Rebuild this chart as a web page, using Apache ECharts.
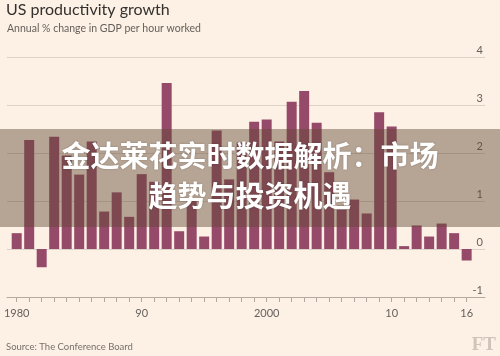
<!DOCTYPE html>
<html>
<head>
<meta charset="utf-8">
<script src="https://cdn.jsdelivr.net/npm/echarts@6/dist/echarts.min.js"></script>
<style>
html,body{margin:0;padding:0;background:#fdf1e5;}
#c{width:500px;height:356px;}
</style>
</head>
<body>
<div id="c"></div>
<script>
const years = ['1980','1981','1982','1983','1984','1985','1986','1987','1988','1989',
  '1990','1991','1992','1993','1994','1995','1996','1997','1998','1999',
  '2000','2001','2002','2003','2004','2005','2006','2007','2008','2009',
  '2010','2011','2012','2013','2014','2015','2016'];
const growth = [0.33, 2.27, -0.38, 2.34, 1.95, 1.55, 2.24, 0.78, 1.18, 0.67,
  1.56, 1.4, 3.46, 0.37, 1.0, 0.26, 2.47, 1.45, 2.22, 2.65,
  2.70, 2.24, 3.07, 3.29, 2.63, 1.6, 0.9, 1.03, 0.74, 2.85,
  2.55, 0.06, 0.49, 0.26, 0.53, 0.33, -0.24];
const labelYears = ['1980','1990','2000','2010','2016'];
const labelTexts = ['1980','90','2000','10','16'];
const titleText = 'US productivity growth';
const subtitleText = 'Annual % change in GDP per hour worked';
const sourceText = 'Source: The Conference Board';
const bannerLines = ['金达莱花实时数据解析：市场', '趋势与投资机遇'];

const chart = echarts.init(document.getElementById('c'), null, {renderer: 'canvas'});
const bg = '#fdf1e5';
chart.setOption({
  backgroundColor: bg,
  animation: false,
  grid: [
    {left: 7, right: 15, top: 57, bottom: 59},
    {left: 10.45, right: 27.1, top: 57, bottom: 59}
  ],
  xAxis: [
    {type: 'value', gridIndex: 0, min: 0, max: 1,
      axisLine: {show: true, onZero: false, lineStyle: {color: '#b3a99f', width: 1}},
      axisTick: {show: false}, axisLabel: {show: false}, splitLine: {show: false}},
    {type: 'category', gridIndex: 1, data: years, boundaryGap: true,
      axisLine: {show: false, onZero: false},
      axisTick: {show: true, alignWithLabel: true, interval: 0, length: 5,
        lineStyle: {color: '#b3a99f'}},
      axisLabel: {interval: 0, margin: 11, color: '#66605c', fontSize: 11,
        fontFamily: 'Lato',
        formatter: function (v) {
          const i = labelYears.indexOf(v);
          return i >= 0 ? labelTexts[i] : '';
        }},
      splitLine: {show: false}}
  ],
  yAxis: [
    {type: 'value', gridIndex: 0, position: 'right', min: -1, max: 4, interval: 1,
      axisLine: {show: false}, axisTick: {show: false},
      axisLabel: {inside: true, margin: 2, verticalAlign: 'bottom', color: '#66605c',
        fontSize: 11, fontFamily: 'Lato', padding: [0, 0, 1, 0]},
      splitLine: {show: true, lineStyle: {color: '#ddd2c7', width: 1}}},
    {type: 'value', gridIndex: 1, min: -1, max: 4, interval: 1, show: false}
  ],
  series: [{
    type: 'bar', xAxisIndex: 1, yAxisIndex: 1, data: growth,
    barWidth: 10, itemStyle: {color: '#964a69'}
  }],
  graphic: [
    {type: 'text', left: 6, top: 2, style: {text: titleText, fill: '#33302e',
      font: '16px Lato'}},
    {type: 'text', left: 7, top: 23, style: {text: subtitleText, fill: '#66605c',
      font: '10.5px Lato'}},
    {type: 'text', left: 6, top: 342, style: {text: sourceText, fill: '#77706a',
      font: '9.5px Lato'}},
    {type: 'text', right: 4, top: 336, style: {text: 'FT', fill: '#cfc4ba',
      font: 'bold 19px "Liberation Serif"'}},
    {type: 'rect', z: 100, shape: {x: 0, y: 129, width: 500, height: 98},
      style: {fill: 'rgba(95,72,48,0.45)'}},
    {type: 'text', z: 101, left: 'center', top: 141, style: {
      text: bannerLines[0], fill: '#ffffff',
      font: 'bold 29px "Noto Sans CJK SC"',
      textShadowColor: 'rgba(0,0,0,0.25)', textShadowBlur: 2}},
    {type: 'text', z: 101, left: 'center', top: 181, style: {
      text: bannerLines[1], fill: '#ffffff',
      font: 'bold 29px "Noto Sans CJK SC"',
      textShadowColor: 'rgba(0,0,0,0.25)', textShadowBlur: 2}}
  ]
});
</script>
</body>
</html>
